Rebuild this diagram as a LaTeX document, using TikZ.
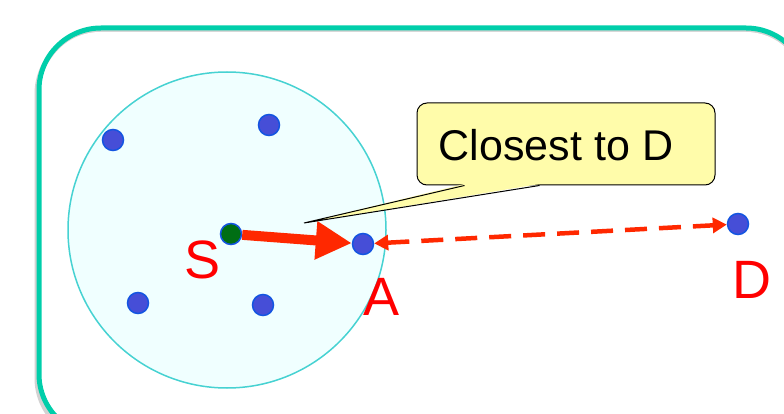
\documentclass[tikz,border=0pt]{standalone}
\usepackage{fontspec}
\setmainfont{Liberation Sans}
\usepackage{tikz}
\usetikzlibrary{positioning, calc, arrows.meta}
\definecolor{frameteal}{RGB}{0, 206, 170}
\definecolor{rangefill}{RGB}{240, 255, 255}
\definecolor{rangeline}{RGB}{70, 210, 210}
\definecolor{dotblue}{RGB}{70, 78, 215}
\definecolor{dotedge}{RGB}{20, 85, 225}
\definecolor{srcgreen}{RGB}{0, 110, 20}
\definecolor{hopred}{RGB}{255, 40, 0}
\definecolor{notefill}{RGB}{255, 252, 170}

\begin{document}
\begin{tikzpicture}[
      x=1pt, y=-1pt,
      font=\fontsize{54}{60}\selectfont,
      host/.style={circle, draw=dotedge, fill=dotblue, line width=1.5pt, minimum size=21pt, inner sep=0pt},
      source/.style={host, fill=srcgreen},
      tag/.style={text=red, inner sep=0pt},
      note/.style={draw=black, fill=notefill, rounded corners=10pt, line width=1pt, minimum width=298pt, minimum height=82pt}
    ]
      \useasboundingbox (0,0) rectangle (784,414);
      \begin{scope}
        \clip (0,0) rectangle (784,414);
        % Frame with its shadow
        \draw[gray!35, line width=5pt, rounded corners=62pt] (37,32) rectangle (806,440);
        \draw[frameteal, line width=5pt, rounded corners=62pt] (39,28) rectangle (808,436);
        \fill[white, rounded corners=58pt] (42,32) rectangle (804,432);
      \end{scope}

      % Radio range of S
      \draw[rangeline, fill=rangefill, line width=1.5pt] (227,230) circle[x radius=159pt, y radius=158pt];

      % Hosts
      \node[host] (h1) at (113,140) {};
      \node[host] (h2) at (269,125) {};
      \node[host] (h3) at (138,303) {};
      \node[host] (h4) at (263,305) {};
      \node[source] (s) at (231,234) {};
      \node[host] (a) at (363,244) {};
      \node[host] (d) at (738,224) {};

      \node[tag] (slabel) at (203,260) {S};
      \node[tag] (alabel) at (382,297) {A};
      \node[tag] (dlabel) at (752,280) {D};

      % Forwarding hop S -> A
      \draw[hopred, line width=10pt, -{Triangle[length=36pt, width=36pt]}] (s) -- (a);
      % Distance A <-> D
      \draw[hopred, line width=4.5pt, dash pattern=on 22pt off 12pt, {Triangle[length=14pt, width=15pt]}-{Triangle[length=14pt, width=15pt]}] (a) -- (d);

      % Callout
      \node[note] (closest) at (566,144) {};
      \node[font=\fontsize{43}{48}\selectfont] (closesttext) at (556,145) {Closest to D};
      \coordinate (tip) at (304,223);
      \coordinate (base1) at ($(closest.south west)+(48,0)$);
      \coordinate (base2) at ($(closest.south west)+(123,0)$);
      \fill[notefill] ($(base1)+(0,-1.5)$) -- (tip) -- ($(base2)+(0,-1.5)$) -- cycle;
      \draw[line width=1pt] (base1) -- (tip) -- (base2);
    \end{tikzpicture}
\end{document}
